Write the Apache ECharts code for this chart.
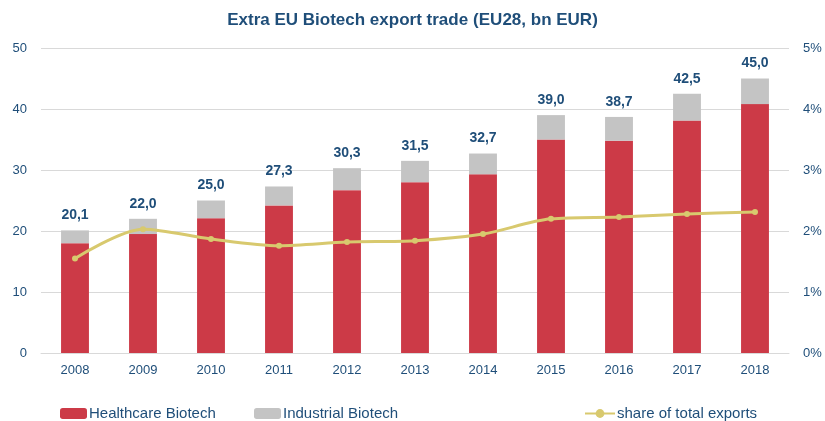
<!DOCTYPE html>
<html><head><meta charset="utf-8">
<script src="https://cdn.jsdelivr.net/npm/echarts@6/dist/echarts.min.js"></script>
<style>html,body{margin:0;padding:0;background:#fff}#c{width:825px;height:421px}</style>
</head><body><div id="c"></div>
<script>
var years = ['2008','2009','2010','2011','2012','2013','2014','2015','2016','2017','2018'];
var healthcare = [18.0, 19.5, 22.1, 24.2, 26.7, 28.0, 29.3, 35.0, 34.8, 38.1, 40.8];
var industrial = [2.1, 2.5, 2.9, 3.1, 3.6, 3.5, 3.4, 4.0, 3.9, 4.4, 4.2];
var totalLabels = ['20,1','22,0','25,0','27,3','30,3','31,5','32,7','39,0','38,7','42,5','45,0'];
var shareOfExports = [1.55, 2.03, 1.87, 1.76, 1.82, 1.84, 1.95, 2.20, 2.23, 2.28, 2.31];

var navy = '#1F4E79';
var font = 'Liberation Sans, Arial, sans-serif';
var legText = {color: navy, fontSize: 15, fontFamily: font, padding: [0, 0, 0, -3]};
var chart = echarts.init(document.getElementById('c'));
chart.setOption({
  animation: false,
  textStyle: {fontFamily: font},
  title: {
    text: '{b|Extra EU Biotech export trade} {n|(EU28, bn EUR)}',
    left: 'center', top: 6,
    textStyle: {rich: {
      b: {fontFamily: font, fontSize: 17, fontWeight: 'bold', color: navy},
      n: {fontFamily: font, fontSize: 17, color: navy}
    }}
  },
  legend: [
    {data: ['Healthcare Biotech'], left: 55, top: 401, itemWidth: 27, itemHeight: 11, textStyle: legText},
    {data: ['Industrial Biotech'], left: 249, top: 401, itemWidth: 27, itemHeight: 11, textStyle: legText},
    {data: ['share of total exports'], left: 579, top: 401, itemWidth: 30, itemHeight: 11, textStyle: legText}
  ],
  grid: {left: 41, right: 36, top: 48, bottom: 68},
  xAxis: {
    type: 'category', data: years,
    axisLine: {lineStyle: {color: '#d9d9d9'}},
    axisTick: {show: false},
    axisLabel: {color: navy, fontSize: 13, margin: 11}
  },
  yAxis: [
    {type: 'value', min: 0, max: 50, interval: 10,
     axisLabel: {color: navy, fontSize: 13, margin: 14},
     splitLine: {lineStyle: {color: '#d9d9d9'}}},
    {type: 'value', min: 0, max: 5, interval: 1,
     axisLabel: {color: navy, fontSize: 13, margin: 14, formatter: '{value}%'},
     splitLine: {show: false}}
  ],
  series: [
    {name: 'Healthcare Biotech', type: 'bar', stack: 't', data: healthcare, barWidth: '41%',
     itemStyle: {color: '#CC3A47'}},
    {name: 'Industrial Biotech', type: 'bar', stack: 't', data: industrial,
     itemStyle: {color: '#C4C4C4'},
     label: {show: true, position: 'top', distance: 8, color: navy, fontWeight: 'bold', fontSize: 14,
       fontFamily: font, formatter: function(p){return totalLabels[p.dataIndex];}}},
    {name: 'share of total exports', type: 'line', yAxisIndex: 1, data: shareOfExports,
     smooth: 0.3, symbol: 'circle', symbolSize: 6,
     lineStyle: {color: '#D8C96E', width: 3}, itemStyle: {color: '#D8C96E'}}
  ]
});
</script></body></html>
